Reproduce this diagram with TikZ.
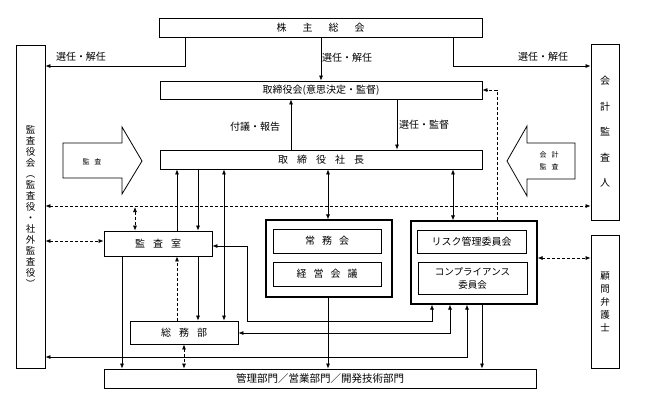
\documentclass[tikz,border=0pt]{standalone}
\usepackage{fontspec}
\setmainfont{Noto Sans CJK JP}
\usetikzlibrary{arrows.meta}
\begin{document}
\begin{tikzpicture}[x=1pt,y=-1pt,
  box/.style={draw, line width=0.8pt, inner sep=0pt, font=\fontsize{10}{12}\selectfont},
  outer/.style={draw, line width=1.2pt, inner sep=0pt},
  arr/.style={-{Latex[length=5pt,width=4pt]}, line width=0.7pt},
  darr/.style={{Latex[length=5pt,width=4pt]}-{Latex[length=5pt,width=4pt]}, line width=0.7pt},
  dashline/.style={dash pattern=on 3pt off 2pt},
  lbl/.style={font=\fontsize{10}{12}\selectfont, inner sep=0pt},
  small/.style={font=\fontsize{7}{12}\selectfont, inner sep=0pt, align=center}]
\useasboundingbox (0,0) rectangle (648,408);

% boxes
\node[box, minimum width=323pt, minimum height=19pt] (kabu) at (320.5,27.5) {株\hspace{16pt}主\hspace{16pt}総\hspace{16pt}会};
\node[box, minimum width=322pt, minimum height=18pt] (tori) at (321,90) {取締役会(意思決定・監督)};
\node[box, minimum width=322pt, minimum height=19pt] (shacho) at (321,159.5) {取\hspace{9pt}締\hspace{9pt}役\hspace{9pt}社\hspace{9pt}長};
\node[box, minimum width=29pt, minimum height=323pt, align=center, font=\fontsize{9.5}{11}\selectfont] (kansayaku) at (30.5,206.5) {監\\査\\役\\会\\︵\\監\\査\\役\\・\\社\\外\\監\\査\\役\\︶};
\node[box, minimum width=28pt, minimum height=176pt, align=center, font=\fontsize{10}{25.5}\selectfont] (kaikei) at (605,132) {会\\計\\監\\査\\人};
\node[box, minimum width=28pt, minimum height=133pt, align=center, font=\fontsize{9.5}{13}\selectfont] (bengo) at (605,301.5) {顧\\問\\弁\\護\\士};
\node[box, minimum width=108pt, minimum height=25pt] (kansashitsu) at (158,243.5) {監\hspace{8pt}査\hspace{8pt}室};
\node[box, minimum width=108pt, minimum height=23pt] (somu) at (184,332.5) {総\hspace{8pt}務\hspace{8pt}部};
\node[outer, minimum width=126pt, minimum height=77pt] (joumuout) at (329,258.5) {};
\node[box, minimum width=108pt, minimum height=24pt] (joumukai) at (327,241) {常\hspace{7pt}務\hspace{7pt}会};
\node[box, minimum width=108pt, minimum height=24pt] (keiei) at (327,274) {経\hspace{7pt}営\hspace{7pt}会\hspace{7pt}議};
\node[outer, minimum width=126pt, minimum height=83pt] (riskout) at (474,262.5) {};
\node[box, minimum width=109pt, minimum height=23pt] (riskc) at (471.5,241.5) {リスク管理委員会};
\node[box, minimum width=109pt, minimum height=32pt, align=center, font=\fontsize{9.5}{13}\selectfont] (comp) at (472.5,278) {コンプライアンス\\委員会};
\node[box, minimum width=432pt, minimum height=19pt, font=\fontsize{10.5}{12}\selectfont] (kanri) at (320,378.5) {管理部門／営業部門／開発技術部門};

% block arrows
\draw[line width=0.8pt] (63,143) -- (122,143) -- (122,127) -- (142,161) -- (122,194) -- (122,178) -- (63,178) -- cycle;
\node[small] (kansatxt) at (92,162) {監\hspace{5pt}査};
\draw[line width=0.8pt] (575,143) -- (527,143) -- (527,126) -- (507,161) -- (527,196) -- (527,179) -- (575,179) -- cycle;
\node[small] (kaikeitxt) at (549,161) {会\hspace{5pt}計\\監\hspace{5pt}査};

% connectors
\coordinate (p1) at (185,66);
\draw[arr] (kabu.south -| p1) |- (kansayaku.east |- p1);
\node[lbl] (l1) at (81,57) {選任・解任};
\coordinate (p2) at (321,0);
\draw[arr] (kabu.south -| p2) -- (tori.north -| p2);
\node[lbl] (l2) at (347,58) {選任・解任};
\coordinate (p3) at (453,66);
\draw[arr] (kabu.south -| p3) |- (kaikei.west |- p3);
\node[lbl] (l3) at (543,57) {選任・解任};
\coordinate (p4) at (291,0);
\draw[arr] (shacho.north -| p4) -- (tori.south -| p4);
\node[lbl] (l4) at (255,127) {付議・報告};
\coordinate (p5) at (397,0);
\draw[arr] (tori.south -| p5) -- (shacho.north -| p5);
\node[lbl] (l5) at (424,125) {選任・監督};
\coordinate (p6) at (497,0);
\draw[arr, dashline] (riskout.north -| p6) |- (tori.east);
\coordinate (p7) at (0,206);
\draw[darr, dashline] (kansayaku.east |- p7) -- (kaikei.west |- p7);
\coordinate (p8) at (135,207);
\draw[darr, dashline] (p8) -- (kansashitsu.north -| p8);
\coordinate (p9) at (0,241);
\draw[darr, dashline] (kansayaku.east |- p9) -- (kansashitsu.west |- p9);
\coordinate (p10) at (177,0);
\draw[arr] (kansashitsu.north -| p10) -- (shacho.south -| p10);
\coordinate (p11) at (198,0);
\draw[arr] (shacho.south -| p11) -- (kansashitsu.north -| p11);
\draw[arr] (kansashitsu.south -| p11) -- (somu.north -| p11);
\coordinate (p12) at (224,0);
\draw[darr] (shacho.south -| p12) -- (somu.north -| p12);
\draw[arr, dashline] (somu.north -| p10) -- (kansashitsu.south -| p10);
\coordinate (p14) at (122,0);
\draw[arr] (kansashitsu.south -| p14) -- (kanri.north -| p14);
\draw[darr, dashline] (somu.south) -- (kanri.north -| somu.south);
\coordinate (p16) at (328,0);
\draw[darr] (shacho.south -| p16) -- (joumuout.north -| p16);
\draw[arr] (joumuout.south -| p16) -- (kanri.north -| p16);
\draw[darr] (shacho.south -| p3) -- (riskout.north -| p3);
\coordinate (p18) at (482,0);
\draw[arr] (riskout.south -| p18) -- (kanri.north -| p18);
\coordinate (p19) at (247,246);
\coordinate (p19b) at (432,321);
\draw[darr] (kansashitsu.east |- p19) -- (p19) |- (p19b) -- (riskout.south -| p19b);
\coordinate (p20) at (450,333);
\draw[darr] (somu.east |- p20) -| (riskout.south -| p20);
\coordinate (p21) at (467,357);
\draw[darr] (kansayaku.east |- p21) -| (riskout.south -| p21);
\coordinate (p22) at (0,258);
\draw[darr, dashline] (riskout.east |- p22) -- (bengo.west |- p22);
\end{tikzpicture}
\end{document}
